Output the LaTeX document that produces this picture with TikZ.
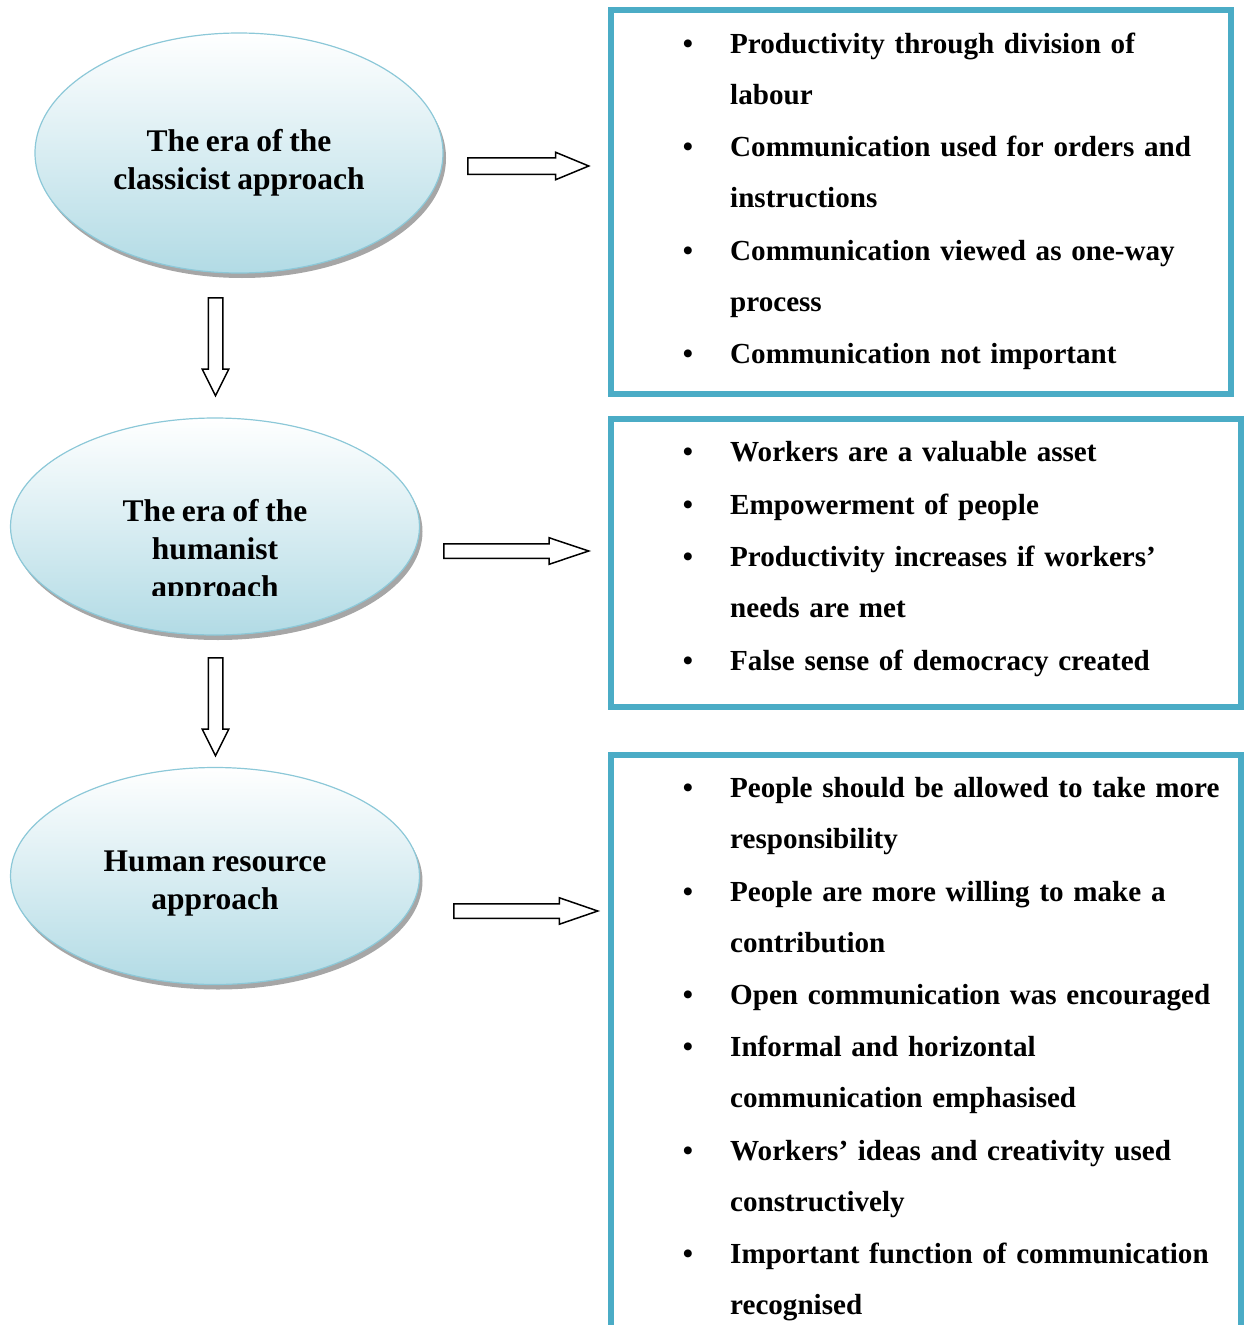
\documentclass[tikz,border=0pt]{standalone}
\usepackage{fontspec}
\setmainfont{Liberation Serif}[WordSpace=0.85]
\usetikzlibrary{shapes.geometric,shapes.arrows,shadows}

\definecolor{boxteal}{RGB}{75,172,198}
\definecolor{ellblue}{RGB}{178,219,229}
\definecolor{ellline}{RGB}{140,200,216}
\newcommand{\erafont}{\fontsize{31.5}{38}\selectfont\bfseries}
\newcommand{\pointfont}{\fontsize{29.1}{51}\selectfont\bfseries}

\tikzset{
	era/.style={
		ellipse, draw=ellline, line width=1.2, inner sep=0,
		top color=white, bottom color=ellblue,
		minimum width=409, minimum height=217,
		drop shadow={shadow xshift=3pt, shadow yshift=-5pt, fill=black!35, opacity=1}},
	eratext/.style={align=center, inner sep=0, font=\erafont},
	listbox/.style={draw=boxteal, line width=6, inner sep=0},
	dot/.style={anchor=base, inner sep=0, font=\pointfont},
	point/.style={anchor=base west, inner sep=0, text width=505, align=left, font=\pointfont},
	blockarrow/.style={
		single arrow, draw, line width=1.5, fill=white,
		inner xsep=0, inner ysep=6.5, anchor=tail, single arrow head extend=6}
}

\begin{document}
\begin{tikzpicture}[x=1pt,y=-1pt]
\useasboundingbox (0,0) rectangle (1246,1325);

% approaches
\node[era, minimum width=408, minimum height=240] (classic) at (239,153) {};
\node[eratext] (classictext) at (239,163) {The era of the\\classicist approach};

\node[era] (humanist) at (215,526.5) {};
\begin{scope}
\clip (0,400) rectangle (440,595);
\node[eratext] (humanisttext) at (215,552) {The era of the\\humanist\\approach};
\end{scope}

\node[era] (hr) at (215,876) {};
\node[eratext] (hrtext) at (215,884) {Human resource\\approach};

% down arrows
\node[blockarrow, rotate=-90, minimum height=98, single arrow tip angle=53] (down1) at (215.5,297) {};
\node[blockarrow, rotate=-90, minimum height=98, single arrow tip angle=53] (down2) at (215.5,657) {};

% right arrows
\node[blockarrow, minimum height=121, inner ysep=7.5, single arrow head extend=5.5, single arrow tip angle=45] (right1) at (467,166) {};
\node[blockarrow, minimum height=145, single arrow tip angle=37] (right2) at (443,551) {};
\node[blockarrow, minimum height=144, single arrow tip angle=38] (right3) at (453,911) {};

% boxes
\node[listbox, minimum width=620, minimum height=384] (box1) at (921,202) {};
\node[listbox, minimum width=630, minimum height=288] (box2) at (926,563) {};
\node[listbox, minimum width=630, minimum height=591] (box3) at (926,1050) {};

% points
\foreach \yy/\txt [count=\i] in {
	53/{Productivity through division of\\labour},
	156/{Communication used for orders and\\instructions},
	260/{Communication viewed as one-way\\process},
	363/{Communication not important}}
{
	\node[dot] (dot1-\i) at (688,\yy) {•};
	\node[point] (point1-\i) at (730,\yy) {\txt};
}

\foreach \yy/\txt [count=\i] in {
	461/{Workers are a valuable asset},
	514/{Empowerment of people},
	566/{Productivity increases if workers’\\needs are met},
	670/{False sense of democracy created}}
{
	\node[dot] (dot2-\i) at (688,\yy) {•};
	\node[point] (point2-\i) at (730,\yy) {\txt};
}

\foreach \yy/\txt [count=\i] in {
	797/{People should be allowed to take more\\responsibility},
	901/{People are more willing to make a\\contribution},
	1004/{Open communication was encouraged},
	1056/{Informal and horizontal\\communication emphasised},
	1160/{Workers’ ideas and creativity used\\constructively},
	1263/{Important function of communication\\recognised}}
{
	\node[dot] (dot3-\i) at (688,\yy) {•};
	\node[point] (point3-\i) at (730,\yy) {\txt};
}

\end{tikzpicture}
\end{document}
